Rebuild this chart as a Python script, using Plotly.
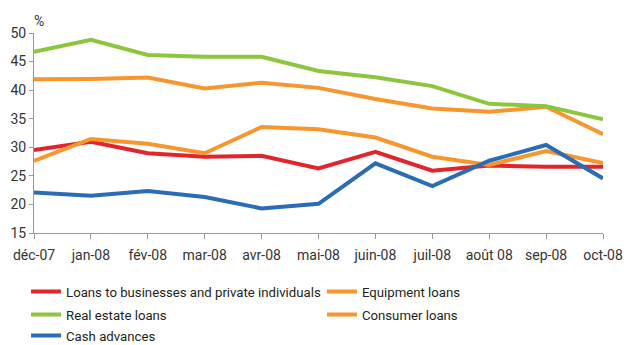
import plotly.graph_objects as go

# Mois (axe X)
months = ["déc-07", "jan-08", "fév-08", "mar-08", "avr-08", "mai-08",
          "juin-08", "juil-08", "août 08", "sep-08", "oct-08"]

# Séries (%)
loans_business = [29.5, 30.95, 28.95, 28.35, 28.5, 26.3, 29.2, 25.9, 26.8, 26.6, 26.6]
equipment_loans = [41.9, 41.95, 42.2, 40.3, 41.3, 40.4, 38.45, 36.8, 36.2, 37.1, 32.3]
real_estate_loans = [46.7, 48.8, 46.15, 45.85, 45.85, 43.35, 42.25, 40.7, 37.6, 37.2, 34.9]
consumer_loans = [27.6, 31.45, 30.6, 28.95, 33.55, 33.15, 31.7, 28.35, 26.9, 29.35, 27.25]
cash_advances = [22.1, 21.5, 22.35, 21.3, 19.3, 20.1, 27.2, 23.2, 27.65, 30.4, 24.55]

# (nom, valeurs, couleur, légende)
series = [
    ("Loans to businesses and private individuals", loans_business, "#e2242b", "legend"),
    ("Equipment loans", equipment_loans, "#f7962e", "legend2"),
    ("Real estate loans", real_estate_loans, "#8cc63f", "legend3"),
    ("Consumer loans", consumer_loans, "#f7962e", "legend4"),
    ("Cash advances", cash_advances, "#2b6cb5", "legend5"),
]

font_family = "Roboto, sans-serif"

fig = go.Figure()
for name, values, color, leg in series:
    fig.add_trace(go.Scatter(
        x=months, y=values, name=name, mode="lines",
        line=dict(color=color, width=4), legend=leg,
    ))

# une légende par entrée, pour placer les deux colonnes comme l'original
legend_style = dict(
    orientation="v", yanchor="middle", xanchor="left",
    font=dict(size=13.2, color="#231f20"), itemwidth=30,
    bgcolor="rgba(0,0,0,0)",
)
col1, col2 = -0.014, 0.506
row1, row2, row3 = -0.295, -0.41, -0.515

fig.update_layout(
    width=624, height=345,
    margin=dict(l=34, r=21, t=33, b=112, autoexpand=False),
    paper_bgcolor="white", plot_bgcolor="white",
    font=dict(family=font_family, size=14, color="#333333"),
    showlegend=True,
    legend=dict(x=col1, y=row1, **legend_style),
    legend2=dict(x=col2, y=row1, **legend_style),
    legend3=dict(x=col1, y=row2, **legend_style),
    legend4=dict(x=col2, y=row2, **legend_style),
    legend5=dict(x=col1, y=row3, **legend_style),
    xaxis=dict(
        showgrid=False, showline=True, linecolor="#999999", linewidth=1,
        ticks="outside", ticklen=5, tickcolor="#999999",
        ticklabelstandoff=4, range=[0, 10], fixedrange=True,
    ),
    yaxis=dict(
        range=[15, 50], dtick=5, showgrid=False, zeroline=False,
        showline=True, linecolor="#999999", linewidth=1,
        ticks="outside", ticklen=4, tickcolor="#999999",
    ),
    annotations=[dict(
        text="%", x=0, y=1.0, xref="paper", yref="paper",
        xanchor="left", yanchor="bottom", showarrow=False,
        font=dict(size=14, color="#333333"), xshift=-2, yshift=2,
    )],
)

# marge par défaut du <body> supprimée pour que la figure tienne dans la fenêtre
fig.write_html("out.html", config={"displayModeBar": False},
               post_script="document.body.style.margin='0';")
